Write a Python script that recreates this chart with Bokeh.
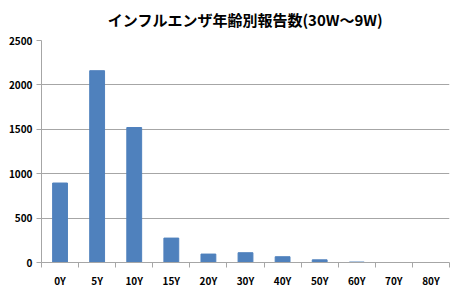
from bokeh.plotting import figure
from bokeh.models import FixedTicker, Range1d, ColumnDataSource
from bokeh.embed import file_html
from bokeh.resources import INLINE

title_text = "インフルエンザ年齢別報告数(30W～9W)"
categories = ["0Y", "5Y", "10Y", "15Y", "20Y", "30Y", "40Y", "50Y", "60Y", "70Y", "80Y"]
counts = [895, 2160, 1520, 275, 95, 110, 65, 30, 5, 0, 0]
y_ticks = [0, 500, 1000, 1500, 2000, 2500]

xs = [i + 0.5 for i in range(len(categories))]
src = ColumnDataSource(dict(x=xs, top=counts))

FONT = "Noto Sans CJK JP"
p = figure(frame_width=408, frame_height=222, output_backend="svg", toolbar_location=None,
           x_range=Range1d(0, len(categories)), y_range=Range1d(0, 2500),
           min_border_left=41, min_border_right=3, min_border_bottom=0, min_border_top=0)
p.title.text = title_text
p.title.align = "center"
p.title.vertical_align = "top"
p.title.text_font = FONT
p.title.text_font_size = "15px"
p.title.text_font_style = "bold"
p.title.text_color = "black"
p.title.offset = 0
p.title.standoff = 17

p.vbar(x="x", top="top", width=0.4, source=src, color="#4f81bd")

p.outline_line_color = None
p.xgrid.grid_line_color = None
p.ygrid.grid_line_color = "#a6a6a6"
p.ygrid.ticker = FixedTicker(ticks=y_ticks)

p.xaxis.ticker = FixedTicker(ticks=xs, minor_ticks=list(range(len(categories) + 1)))
p.xaxis.major_label_overrides = {x: c for x, c in zip(xs, categories)}
p.xaxis.major_tick_out = 0
p.xaxis.major_tick_in = 0
p.xaxis.minor_tick_out = 5
p.xaxis.minor_tick_in = 0
p.xaxis.minor_tick_line_color = "#a6a6a6"
p.xaxis.axis_line_color = "#a6a6a6"
p.xaxis.major_label_standoff = 5
p.xaxis.major_label_text_font = FONT
p.xaxis.major_label_text_font_style = "bold"
p.xaxis.major_label_text_font_size = "10px"
p.xaxis.major_label_text_color = "black"

p.yaxis.ticker = FixedTicker(ticks=y_ticks)
p.yaxis.minor_tick_line_color = None
p.yaxis.major_tick_out = 5
p.yaxis.major_tick_in = 0
p.yaxis.major_tick_line_color = "#a6a6a6"
p.yaxis.axis_line_color = "#a6a6a6"
p.yaxis.major_label_standoff = 4
p.yaxis.major_label_text_font = FONT
p.yaxis.major_label_text_font_style = "bold"
p.yaxis.major_label_text_font_size = "10px"
p.yaxis.major_label_text_color = "black"

open("out.html", "w").write(file_html(p, INLINE))
